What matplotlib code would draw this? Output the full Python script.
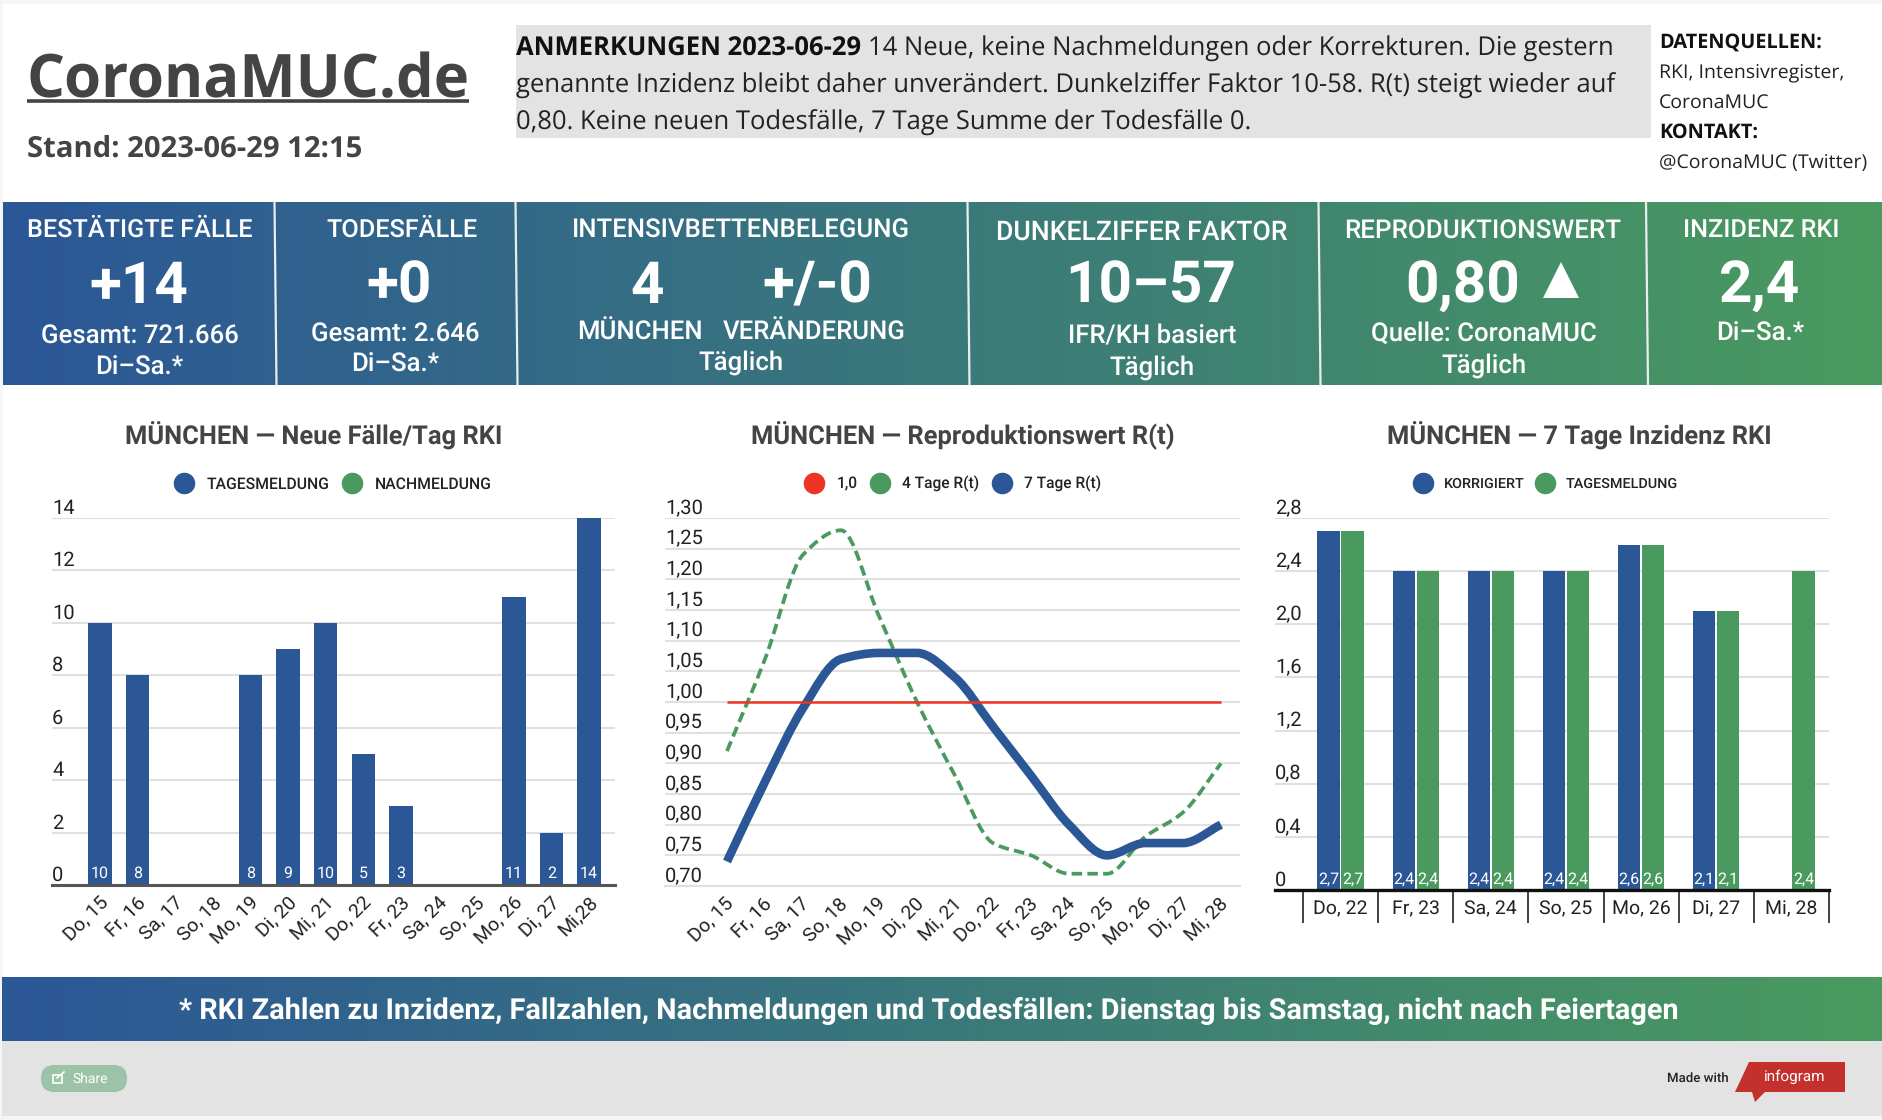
# CoronaMUC.de dashboard, 2023-06-29
import matplotlib
matplotlib.use('Agg')
import matplotlib.pyplot as plt
import numpy as np
from matplotlib.colors import LinearSegmentedColormap
from matplotlib.lines import Line2D
from matplotlib.patches import FancyBboxPatch, PathPatch, Polygon, Rectangle
from matplotlib.path import Path
from matplotlib.transforms import ScaledTranslation

# Data
days_14 = ['Do, 15', 'Fr, 16', 'Sa, 17', 'So, 18', 'Mo, 19', 'Di, 20', 'Mi, 21',
           'Do, 22', 'Fr, 23', 'Sa, 24', 'So, 25', 'Mo, 26', 'Di, 27']
cases_days = days_14 + ['Mi,28']
rt_days = days_14 + ['Mi, 28']
cases_daily = [10, 8, 0, 0, 8, 9, 10, 5, 3, 0, 0, 11, 2, 14]
cases_late = [0, 0, 0, 0, 0, 0, 0, 0, 0, 0, 0, 0, 0, 0]
rt_4day = [0.92, 1.07, 1.24, 1.28, 1.14, 1.00, 0.88, 0.77, 0.75, 0.72, 0.72, 0.78, 0.82, 0.90]
rt_7day = [0.74, 0.87, 0.99, 1.07, 1.08, 1.08, 1.04, 0.96, 0.88, 0.80, 0.75, 0.77, 0.77, 0.80]
rt_one = [1.0] * 14
inc_days = ['Do, 22', 'Fr, 23', 'Sa, 24', 'So, 25', 'Mo, 26', 'Di, 27', 'Mi, 28']
inc_corrected = [2.7, 2.4, 2.4, 2.4, 2.6, 2.1, None]
inc_daily = [2.7, 2.4, 2.4, 2.4, 2.6, 2.1, 2.4]
cases_ticks = [0, 2, 4, 6, 8, 10, 12, 14]
rt_ticks = [0.70, 0.75, 0.80, 0.85, 0.90, 0.95, 1.00, 1.05, 1.10, 1.15, 1.20, 1.25, 1.30]
inc_ticks = [0, 0.4, 0.8, 1.2, 1.6, 2.0, 2.4, 2.8]

W, H = 1882, 1120
BLUE = '#2b5797'
GREEN = '#4a9a5f'
RED = '#ee3524'
DARK = '#444444'
GRID = '#e0e0e0'

plt.rcParams['font.family'] = ['Roboto', 'DejaVu Sans']
plt.rcParams['text.hinting'] = 'none'
fig = plt.figure(figsize=(W / 100, H / 100), dpi=100, facecolor='#f5f5f5')

# page layer in pixel coordinates
bg = fig.add_axes([0, 0, 1, 1], zorder=0)
grad = LinearSegmentedColormap.from_list('bluegreen', [BLUE, GREEN])
ramp = np.linspace(0, 1, 400).reshape(1, -1)
bg.add_patch(Rectangle((3, 4), W, 1112, color='white', lw=0))
bg.imshow(ramp, cmap=grad, extent=(3, W, 385, 202), aspect='auto', zorder=1.5)
bg.imshow(ramp, cmap=grad, extent=(2, W, 1041, 977), aspect='auto', zorder=1.5)
bg.add_patch(Rectangle((2, 1041), W, 75, color='#e3e3e3', lw=0))
bg.add_patch(Rectangle((516, 25), 1135, 113, color='#e3e3e3', lw=0))
for sx in [274.5, 515.5, 967.5, 1318.5, 1646]:
    bg.plot([sx, sx + 2], [202, 385], color='#e8eeee', lw=1.6, solid_capstyle='butt', zorder=2)
bg.set_xlim(0, W)
bg.set_ylim(H, 0)
bg.axis('off')


def put(x, y, s, size, color='white', ha='center', va='center', weight='normal', family='Roboto'):
    return bg.text(x, y, s, fontsize=size, color=color, ha=ha, va=va, fontweight=weight, family=family, zorder=3)


# header
put(27, 97, 'CoronaMUC.de', 43, DARK, 'left', 'baseline', 'bold', 'Open Sans')
bg.plot([27, 469], [100.5, 100.5], color=DARK, lw=2.6, solid_capstyle='butt')
put(27, 157, 'Stand: 2023-06-29 12:15', 21.1, DARK, 'left', 'baseline', 'bold', 'Open Sans')

put(516, 56, 'ANMERKUNGEN 2023-06-29', 18.46, '#111111', 'left', 'baseline', 'bold', 'Open Sans')
put(868, 56, '14 Neue, keine Nachmeldungen oder Korrekturen. Die gestern', 18.46, '#222222', 'left', 'baseline', family='Open Sans')
put(516, 93, 'genannte Inzidenz bleibt daher unverändert. Dunkelziffer Faktor 10-58. R(t) steigt wieder auf', 18.46, '#222222', 'left', 'baseline', family='Open Sans')
put(516, 130, '0,80. Keine neuen Todesfälle, 7 Tage Summe der Todesfälle 0.', 18.46, '#222222', 'left', 'baseline', family='Open Sans')

put(1659, 48, 'DATENQUELLEN:', 14.3, '#111111', 'left', 'baseline', 'bold', 'Open Sans')
put(1659, 78, 'RKI, Intensivregister,', 14, '#222222', 'left', 'baseline', family='Open Sans')
put(1659, 108, 'CoronaMUC', 14, '#222222', 'left', 'baseline', family='Open Sans')
put(1659, 138, 'KONTAKT:', 14.3, '#111111', 'left', 'baseline', 'bold', 'Open Sans')
put(1659, 168, '@CoronaMUC (Twitter)', 14, '#222222', 'left', 'baseline', family='Open Sans')

# KPI panels
for x, y, s, size in [(139.5, 230, 'BESTÄTIGTE FÄLLE', 18.2), (402, 230, 'TODESFÄLLE', 18.2),
                      (741, 230, 'INTENSIVBETTENBELEGUNG', 18.5), (1142, 232, 'DUNKELZIFFER FAKTOR', 19.2),
                      (1483, 231, 'REPRODUKTIONSWERT', 18.7), (1761, 230, 'INZIDENZ RKI', 18.2)]:
    put(x, y, s, size, weight='medium')
for x, s in [(139, '+14'), (399, '+0'), (647, '4'), (817, '+/-0'), (1151, '10–57'), (1463, '0,80'), (1760, '2,4')]:
    put(x, 287, s, 42, weight='bold')
bg.add_patch(Polygon([(1543, 298), (1561, 262), (1579, 298)], color='white', lw=0, zorder=3))
for x, y, s in [(140, 336, 'Gesamt: 721.666'), (139, 368, 'Di–Sa.*'),
                (395, 334, 'Gesamt: 2.646'), (395, 365, 'Di–Sa.*'),
                (640, 333, 'MÜNCHEN'), (814, 333, 'VERÄNDERUNG'), (741, 363, 'Täglich'),
                (1152, 336, 'IFR/KH basiert'), (1152, 368, 'Täglich'),
                (1484, 334, 'Quelle: CoronaMUC'), (1484, 366, 'Täglich'),
                (1760, 334, 'Di–Sa.*')]:
    put(x, y, s, 18.5, weight='medium')

# footer
put(929, 1011, '* RKI Zahlen zu Inzidenz, Fallzahlen, Nachmeldungen und Todesfällen: Dienstag bis Samstag, nicht nach Feiertagen',
    20.75, weight='bold')
bg.add_patch(FancyBboxPatch((41, 1065), 86, 27, boxstyle='round,pad=0,rounding_size=13.5', fc='#9cc3a8', ec='none'))
bg.add_patch(Rectangle((53, 1075), 9, 8, fill=False, ec='white', lw=1.2))
bg.plot([57, 64], [1078, 1072], color='white', lw=1.2)
put(90, 1079, 'Share', 10)
put(1698, 1078, 'Made with', 9.5, '#222222', weight='medium')
bg.add_patch(Polygon([(1749, 1062), (1845, 1062), (1845, 1092), (1765, 1092), (1755, 1102), (1752, 1092), (1735, 1092)],
                     color='#c4302b', lw=0))
put(1795, 1077, 'infogram', 11)


def chart_axes(left, top, right, bottom):
    ax = fig.add_axes([left / W, 1 - bottom / H, (right - left) / W, (bottom - top) / H], zorder=2)
    ax.patch.set_alpha(0)
    for side in ['top', 'left', 'right']:
        ax.spines[side].set_visible(False)
    ax.set_axisbelow(True)
    ax.yaxis.grid(True, color=GRID, lw=1.5)
    ax.xaxis.grid(False)
    ax.tick_params(axis='y', length=0, labelleft=False)
    return ax


def y_labels(ax, ticks, fmt):
    for v in ticks:
        ax.annotate(fmt(v), (0, v), xycoords=ax.get_yaxis_transform(), xytext=(0, 0), textcoords='offset points',
                    ha='left', va='bottom', fontsize=14.5, color='#222222')


def legend(ax, cx, handles, size=11.5):
    items = [Line2D([], [], marker='o', ls='', ms=14.5, color=c, label=s) for c, s in handles]
    ax.legend(handles=items, loc='center', bbox_to_anchor=(cx / W, 1 - 484 / H), bbox_transform=fig.transFigure,
              ncols=len(items), frameon=False, handlelength=1, handletextpad=0.94, columnspacing=0.94,
              prop={'size': size, 'weight': 'medium'}, labelcolor='#222222', borderpad=0)


def smooth_path(xs, ys):
    # monotone cubic segments through the read values
    xs, ys = np.asarray(xs, float), np.asarray(ys, float)
    d = np.diff(ys) / np.diff(xs)
    m = np.zeros(len(ys))
    m[0], m[-1] = d[0], d[-1]
    for i in range(1, len(ys) - 1):
        if d[i - 1] * d[i] > 0:
            m[i] = 2 * d[i - 1] * d[i] / (d[i - 1] + d[i])
    verts = [(xs[0], ys[0])]
    codes = [Path.MOVETO]
    for i in range(len(ys) - 1):
        h = (xs[i + 1] - xs[i]) / 3
        verts += [(xs[i] + h, ys[i] + m[i] * h), (xs[i + 1] - h, ys[i + 1] - m[i + 1] * h), (xs[i + 1], ys[i + 1])]
        codes += [Path.CURVE4] * 3
    return Path(verts, codes)


def rotated_days(ax, labels, shift):
    ax.set_xticks(np.arange(len(labels)))
    ax.set_xticklabels(labels, rotation=45, ha='right', va='center', rotation_mode='anchor', fontsize=14, color='#222222')
    ax.tick_params(axis='x', length=0, pad=11)
    nudge = ScaledTranslation(shift / 72, 0, fig.dpi_scale_trans)
    for lab in ax.get_xticklabels():
        lab.set_transform(lab.get_transform() + nudge)


# Chart 1: new cases
ax1 = chart_axes(52, 518, 615, 885)
x1 = np.arange(len(cases_daily))
step1 = 37.6
ax1.bar(x1, cases_daily, width=0.625, color=BLUE)
ax1.bar(x1, cases_late, width=0.625, bottom=cases_daily, color=GREEN)
ax1.set_xlim(-48 / step1, 13 + 26 / step1)
ax1.set_ylim(0, 14)
ax1.spines['bottom'].set_color('#555555')
ax1.spines['bottom'].set_linewidth(2.2)
rotated_days(ax1, cases_days, 4.3)
y_labels(ax1, cases_ticks, str)
for i, v in zip(x1, cases_daily):
    if v:
        ax1.annotate(str(v), (i, 0), xytext=(0, 2.5), textcoords='offset points', ha='center', va='bottom',
                     color='white', fontsize=11.5)
legend(ax1, 334, [(BLUE, 'TAGESMELDUNG'), (GREEN, 'NACHMELDUNG')], 11.3)
put(314, 436, 'MÜNCHEN — Neue Fälle/Tag RKI', 18.4, DARK, weight='bold')

# Chart 2: R(t)
ax2 = chart_axes(665, 518, 1240, 886)
x2 = np.arange(len(rt_7day))
step2 = 38.0
ax2.plot(x2, rt_one, color=RED, lw=1.8, solid_capstyle='butt')
ax2.add_patch(PathPatch(smooth_path(x2, rt_4day), fill=False, ec=GREEN, lw=2.7, linestyle=(0, (2.8, 1.4)), capstyle='butt'))
ax2.add_patch(PathPatch(smooth_path(x2, rt_7day), fill=False, ec=BLUE, lw=6.2, capstyle='butt'))
ax2.set_xlim(-62 / step2, 13 + 19 / step2)
ax2.set_ylim(0.70, 1.30)
ax2.set_yticks(rt_ticks)
ax2.spines['bottom'].set_color(GRID)
ax2.spines['bottom'].set_linewidth(1.5)
rotated_days(ax2, rt_days, 3)
y_labels(ax2, rt_ticks, lambda v: f'{v:.2f}'.replace('.', ','))
legend(ax2, 954, [(RED, '1,0'), (GREEN, '4 Tage R(t)'), (BLUE, '7 Tage R(t)')], 11.2)
put(963, 436, 'MÜNCHEN — Reproduktionswert R(t)', 18.4, DARK, weight='bold')

# Chart 3: incidence
ax3 = chart_axes(1275, 518, 1829, 890)
x3 = np.arange(len(inc_days))
off = 0.16
bw = 0.297
corrected = [np.nan if v is None else v for v in inc_corrected]
ax3.bar(x3 - off, corrected, width=bw, color=BLUE)
ax3.bar(x3 + off, inc_daily, width=bw, color=GREEN)
ax3.set_xlim(-0.5 - 28 / 75.1, 6.5)
ax3.set_ylim(0, 2.8)
ax3.set_yticks(inc_ticks)
ax3.spines['bottom'].set_color('#111111')
ax3.spines['bottom'].set_linewidth(2.4)
ax3.set_xticks(x3)
ax3.set_xticklabels(inc_days, fontsize=14, color='#222222')
ax3.set_xticks(np.arange(-0.5, 7), minor=True)
ax3.tick_params(axis='x', which='major', length=0, pad=7)
ax3.tick_params(axis='x', which='minor', length=24, width=1.3, color='#333333')
y_labels(ax3, inc_ticks, lambda v: '0' if v == 0 else f'{v:.1f}'.replace('.', ','))
for i in x3:
    if inc_corrected[i] is not None:
        ax3.annotate(f'{inc_corrected[i]:.1f}'.replace('.', ','), (i - off, 0), xytext=(0, 2.5), textcoords='offset points',
                     ha='center', va='bottom', color='white', fontsize=11.5)
    ax3.annotate(f'{inc_daily[i]:.1f}'.replace('.', ','), (i + off, 0), xytext=(0, 2.5), textcoords='offset points',
                 ha='center', va='bottom', color='white', fontsize=11.5)
legend(ax3, 1547, [(BLUE, 'KORRIGIERT'), (GREEN, 'TAGESMELDUNG')], 10.4)
put(1579, 436, 'MÜNCHEN — 7 Tage Inzidenz RKI', 18.4, DARK, weight='bold')

fig.savefig('out.png', dpi=100)
